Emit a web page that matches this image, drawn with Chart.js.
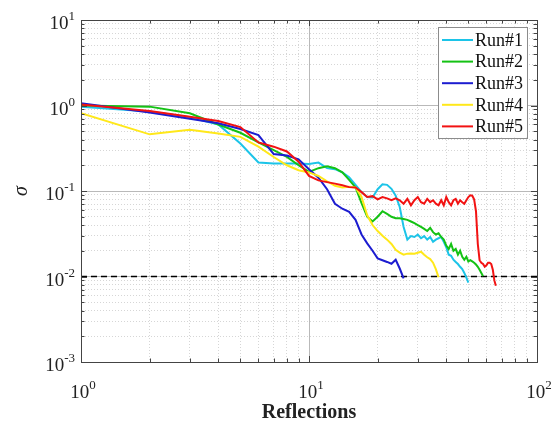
<!DOCTYPE html>
<html lang="en">
<head>
<meta charset="UTF-8">
<title>σ vs Reflections</title>
<script src="https://cdn.jsdelivr.net/npm/chart.js@4.4.1/dist/chart.umd.min.js"></script>
<style>
    html, body { margin: 0; padding: 0; background: #fff; }
    canvas { display: block; }
</style>
</head>
<body>
<canvas id="sigmaChart" width="558" height="428"></canvas>
<script>
    // run names / colours (legend order)
    const runNames = ['Run#1', 'Run#2', 'Run#3', 'Run#4', 'Run#5'];
    const runColors = ['#1cc4e8', '#14c214', '#1c1cd0', '#ffe81a', '#f21212'];

    // sigma per reflection, starting at reflection 1
    const run1 = [0.97, 0.85, 0.73, 0.6, 0.36, 0.216, 0.21, 0.21, 0.21, 0.207,
        0.215, 0.185, 0.18, 0.165, 0.145, 0.118, 0.097, 0.085, 0.084, 0.105,
        0.12, 0.118, 0.106, 0.088, 0.065, 0.038, 0.027, 0.0297, 0.029, 0.031,
        0.028, 0.0297, 0.027, 0.029, 0.0255, 0.027, 0.028, 0.029, 0.0255, 0.022,
        0.018, 0.0175, 0.0157, 0.0148, 0.014, 0.013, 0.0122, 0.011, 0.0097, 0.0085];
    const run2 = [1.0, 0.97, 0.81, 0.6, 0.48, 0.37, 0.3, 0.25, 0.2, 0.167,
        0.185, 0.195, 0.185, 0.165, 0.135, 0.11, 0.072, 0.05, 0.044, 0.05,
        0.058, 0.054, 0.05, 0.048, 0.048, 0.047, 0.046, 0.044, 0.042, 0.04,
        0.038, 0.036, 0.034, 0.037, 0.033, 0.031, 0.032, 0.029, 0.027, 0.023,
        0.021, 0.024, 0.02, 0.021, 0.018, 0.02, 0.017, 0.0157, 0.017, 0.015,
        0.0155, 0.015, 0.0145, 0.0138, 0.013, 0.012, 0.011, 0.0101];
    const run3 = [1.06, 0.83, 0.7, 0.62, 0.53, 0.45, 0.27, 0.26, 0.235, 0.18,
        0.143, 0.105, 0.071, 0.062, 0.057, 0.046, 0.031, 0.0244, 0.02, 0.0163,
        0.0155, 0.0148, 0.0141, 0.0157, 0.0124, 0.0095];
    const run4 = [0.81, 0.46, 0.52, 0.47, 0.43, 0.33, 0.25, 0.2, 0.175, 0.165,
        0.15, 0.13, 0.115, 0.11, 0.112, 0.11, 0.085, 0.052, 0.04, 0.034,
        0.03, 0.027, 0.024, 0.0205, 0.019, 0.018, 0.0185, 0.0186, 0.0185, 0.019,
        0.0195, 0.018, 0.0168, 0.016, 0.0145, 0.0122, 0.0098];
    const run5 = [1.03, 0.86, 0.74, 0.66, 0.56, 0.37, 0.33, 0.29, 0.22, 0.15,
        0.133, 0.127, 0.122, 0.117, 0.111, 0.11, 0.097, 0.085, 0.087, 0.08,
        0.085, 0.082, 0.078, 0.082, 0.078, 0.071, 0.081, 0.068, 0.078, 0.085,
        0.074, 0.071, 0.081, 0.074, 0.078, 0.071, 0.068, 0.078, 0.068, 0.085,
        0.074, 0.068, 0.078, 0.081, 0.071, 0.078, 0.074, 0.071, 0.078, 0.085,
        0.089, 0.088, 0.08, 0.058, 0.024, 0.0155, 0.0145, 0.014, 0.013, 0.0135,
        0.0145, 0.0145, 0.014, 0.012, 0.009, 0.0078];
    const runs = [run1, run2, run3, run4, run5];

    const threshold = 0.01;
    const xRange = [1, 100];
    const yRange = [0.001, 10];
    // decade tick labels are written as 10 with a raised exponent
    const xTickExponents = ['0', '1', '2'];
    const yTickExponents = ['-3', '-2', '-1', '0', '1'];

    const serif = "'Liberation Serif', 'Times New Roman', 'DejaVu Serif', serif";

    function isDecade(v) {
        if (!v) return false;
        const e = Math.log10(v);
        return Math.abs(e - Math.round(e)) < 1e-9;
    }

    // 1..9 x 10^k ticks so every minor grid line is drawn
    function logTicks(scale) {
        const lo = Math.round(Math.log10(scale.min));
        const hi = Math.round(Math.log10(scale.max));
        const t = [];
        for (let e = lo; e < hi; e++) {
            for (let k = 1; k < 10; k++) t.push({ value: k * Math.pow(10, e) });
        }
        t.push({ value: Math.pow(10, hi) });
        scale.ticks = t;
    }

    const datasets = runs.map((r, i) => ({
        label: runNames[i],
        data: r.map((v, j) => ({ x: j + 1, y: v })),
        borderColor: runColors[i],
        backgroundColor: runColors[i],
        borderWidth: 2,
        pointRadius: 0,
        tension: 0,
        order: runs.length - i
    }));
    datasets.push({
        label: '',
        data: [{ x: xRange[0], y: threshold }, { x: xRange[1], y: threshold }],
        borderColor: '#000',
        borderWidth: 1.6,
        borderDash: [6, 4],
        pointRadius: 0,
        order: 10
    });

    // box round the plot + inward ticks on all four sides
    const frame = {
        id: 'frame',
        afterDatasetsDraw(chart) {
            const { ctx, chartArea: a, scales } = chart;
            ctx.save();
            ctx.strokeStyle = '#444';
            ctx.lineWidth = 1;
            ctx.beginPath();
            scales.x.ticks.forEach(t => {
                const px = Math.round(scales.x.getPixelForValue(t.value)) + 0.5;
                const len = isDecade(t.value) ? 6 : 3.5;
                ctx.moveTo(px, a.bottom); ctx.lineTo(px, a.bottom - len);
                ctx.moveTo(px, a.top); ctx.lineTo(px, a.top + len);
            });
            scales.y.ticks.forEach(t => {
                const py = Math.round(scales.y.getPixelForValue(t.value)) + 0.5;
                const len = isDecade(t.value) ? 6 : 3.5;
                ctx.moveTo(a.left, py); ctx.lineTo(a.left + len, py);
                ctx.moveTo(a.right, py); ctx.lineTo(a.right - len, py);
            });
            ctx.stroke();
            ctx.strokeRect(Math.round(a.left) + 0.5, Math.round(a.top) + 0.5,
                Math.round(a.right - a.left), Math.round(a.bottom - a.top));
            ctx.restore();
        }
    };

    // "10" + superscript exponent at each decade tick
    const decadeLabels = {
        id: 'decadeLabels',
        afterDraw(chart) {
            const { ctx, chartArea: a, scales } = chart;
            const baseFont = '19px ' + serif, expFont = '13px ' + serif;
            ctx.save();
            ctx.fillStyle = '#222';
            ctx.textBaseline = 'alphabetic';
            ctx.textAlign = 'left';
            const decadesOf = s => s.ticks.filter(t => isDecade(t.value));
            decadesOf(scales.x).forEach((t, i) => {
                const px = scales.x.getPixelForValue(t.value);
                ctx.font = baseFont;
                const w1 = ctx.measureText('10').width;
                ctx.font = expFont;
                const w2 = ctx.measureText(xTickExponents[i]).width;
                const x = px - (w1 + w2) / 2 + 2;
                ctx.font = baseFont;
                ctx.fillText('10', x, a.bottom + 36);
                ctx.font = expFont;
                ctx.fillText(xTickExponents[i], x + w1, a.bottom + 27);
            });
            decadesOf(scales.y).forEach((t, i) => {
                const py = scales.y.getPixelForValue(t.value);
                ctx.font = expFont;
                const w2 = ctx.measureText(yTickExponents[i]).width;
                ctx.font = baseFont;
                const w1 = ctx.measureText('10').width;
                const x = a.left - 6 - w2 - w1;
                ctx.fillText('10', x, py + 9);
                ctx.font = expFont;
                ctx.fillText(yTickExponents[i], x + w1, py);
            });
            ctx.restore();
        }
    };

    // legend drawn inside the plot, top right, like the original figure
    const insideLegend = {
        id: 'insideLegend',
        afterDatasetsDraw(chart) {
            const { ctx, chartArea: a } = chart;
            const items = chart.data.datasets.filter(d => d.label);
            const w = 89, row = 21.6;
            const h = items.length * row + 3;
            const x0 = a.right - 10 - w, y0 = a.top + 6.5;
            ctx.save();
            ctx.fillStyle = '#fff';
            ctx.fillRect(x0, y0, w, h);
            ctx.strokeStyle = '#8c8c8c';
            ctx.lineWidth = 1;
            ctx.strokeRect(Math.round(x0) + 0.5, Math.round(y0) + 0.5, w, h);
            ctx.font = '18px ' + serif;
            ctx.textBaseline = 'middle';
            ctx.textAlign = 'left';
            items.forEach((d, i) => {
                const y = y0 + 13.5 + i * row;
                ctx.strokeStyle = d.borderColor;
                ctx.lineWidth = 2;
                ctx.beginPath();
                ctx.moveTo(x0 + 4, y);
                ctx.lineTo(x0 + 35, y);
                ctx.stroke();
                ctx.fillStyle = '#111';
                ctx.fillText(d.label, x0 + 37, y + 1);
            });
            ctx.restore();
        }
    };

    const gridColor = c => isDecade(c.tick && c.tick.value) ? '#b9b9b9' : '#d6d6d6';
    const gridDash = c => (c.tick && !isDecade(c.tick.value)) ? [1, 2] : [];

    new Chart(document.getElementById('sigmaChart'), {
        type: 'line',
        data: { datasets: datasets },
        options: {
            responsive: false,
            animation: false,
            layout: { padding: { top: 20, right: 21, left: 0, bottom: 0 } },
            plugins: {
                legend: { display: false },
                tooltip: { enabled: false }
            },
            scales: {
                x: {
                    type: 'logarithmic',
                    min: xRange[0],
                    max: xRange[1],
                    afterBuildTicks: logTicks,
                    afterFit: s => { s.height = 66; },
                    ticks: { autoSkip: false, maxRotation: 0, callback: () => '' },
                    grid: { drawTicks: false, color: gridColor },
                    border: { color: '#444', dash: gridDash },
                    title: {
                        display: true,
                        text: 'Reflections',
                        color: '#222',
                        font: { family: serif, size: 20, weight: 'bold' },
                        padding: { top: 0, bottom: 3 }
                    }
                },
                y: {
                    type: 'logarithmic',
                    min: yRange[0],
                    max: yRange[1],
                    afterBuildTicks: logTicks,
                    afterFit: s => { s.width = 81; },
                    ticks: { autoSkip: false, callback: () => '' },
                    grid: { drawTicks: false, color: gridColor },
                    border: { color: '#444', dash: gridDash },
                    title: {
                        display: true,
                        text: 'σ',
                        color: '#222',
                        font: { family: serif, size: 20, style: 'italic' },
                        padding: { top: 10, bottom: 0 }
                    }
                }
            }
        },
        plugins: [frame, decadeLabels, insideLegend]
    });
</script>
</body>
</html>
